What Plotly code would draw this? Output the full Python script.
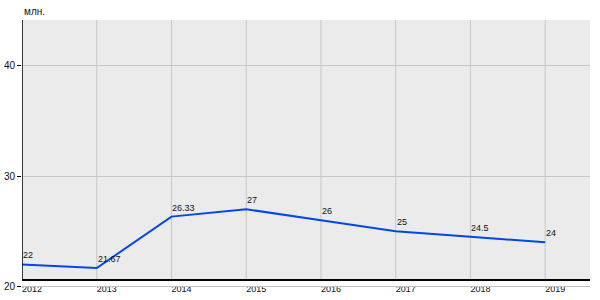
import plotly.graph_objects as go

years = [2012, 2013, 2014, 2015, 2016, 2017, 2018, 2019]
values = [22, 21.67, 26.33, 27, 26, 25, 24.5, 24]
value_labels = ["22", "21.67", "26.33", "27", "26", "25", "24.5", "24"]
y_ticks = [20, 30, 40]
unit_label = "млн."

Y_MIN, Y_MAX = 19.14, 44.14
Y_AXIS = 20.59
X_MIN, X_MAX = 2012, 2019.6
GRID = "#c8c8c8"
BG = "#ebebeb"
FONT = "Liberation Sans, Arial, sans-serif"
TXT = "#111"

fig = go.Figure()
fig.add_trace(go.Scatter(
    x=years, y=values, mode="lines",
    line=dict(color="#0048e6", width=2),
    hoverinfo="skip", showlegend=False,
))

shapes = [dict(type="rect", xref="x", yref="y", x0=X_MIN, x1=X_MAX, y0=Y_AXIS, y1=Y_MAX,
               fillcolor=BG, line=dict(width=0), layer="below")]
for yr in years[1:]:
    shapes.append(dict(type="line", xref="x", yref="y", x0=yr, x1=yr, y0=Y_AXIS, y1=Y_MAX,
                       line=dict(color=GRID, width=1), layer="between"))
shapes.append(dict(type="line", xref="paper", yref="y", x0=0, x1=1, y0=y_ticks[0], y1=y_ticks[0],
                   line=dict(color="#c0c0c0", width=1), layer="above"))
shapes.append(dict(type="line", xref="x", yref="y", x0=X_MIN, x1=X_MIN, y0=Y_AXIS, y1=Y_MAX,
                   line=dict(color="black", width=1.5), layer="above"))

annotations = [dict(text=unit_label, xref="paper", yref="paper", x=0, y=1, yshift=1,
                    xanchor="left", yanchor="bottom", showarrow=False,
                    font=dict(family=FONT, size=10, color=TXT))]
for yr, v, lab in zip(years, values, value_labels):
    annotations.append(dict(text=lab, x=yr, y=v, xref="x", yref="y", xanchor="left",
                            yanchor="bottom", xshift=-1, yshift=2, showarrow=False,
                            font=dict(family=FONT, size=9, color=TXT)))

pos = (296 - 280) / 276

fig.update_layout(
    width=600, height=300,
    margin=dict(l=20, r=10, t=20, b=4),
    paper_bgcolor="white", plot_bgcolor="white",
    font=dict(family=FONT, size=9, color=TXT),
    shapes=shapes,
    annotations=annotations,
    xaxis=dict(range=[X_MIN, X_MAX], tickvals=years, ticktext=[str(y) for y in years],
               showgrid=False, zeroline=False, showline=True, linecolor="black", linewidth=1.5,
               anchor="free", position=pos, ticks="", ticklabelshift=10,
               tickfont=dict(size=9, color=TXT)),
    yaxis=dict(range=[Y_MIN, Y_MAX], tickvals=y_ticks, showgrid=True, gridcolor=GRID, gridwidth=1,
               zeroline=False, showline=False, ticks="outside", ticklen=4, tickcolor="black",
               tickfont=dict(size=10, color=TXT)),
)

fig.write_html("out.html")
